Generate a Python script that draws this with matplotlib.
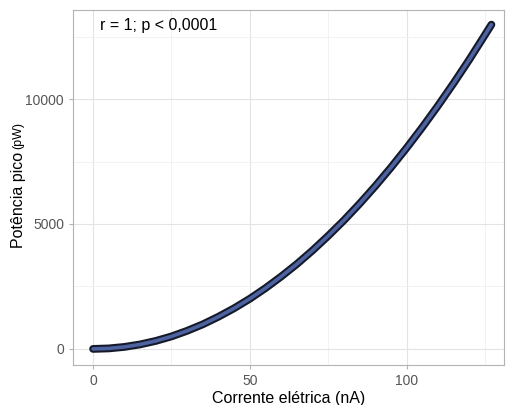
import matplotlib
matplotlib.use('Agg')
import matplotlib.pyplot as plt
from matplotlib.ticker import MultipleLocator

plt.rcParams['font.family'] = ['Liberation Sans', 'DejaVu Sans']

# corrente (nA) e potencia pico (pW)
corrente = [0, 5, 10, 15, 20, 25, 30, 35, 40, 45, 50, 55, 60, 65,
            70, 75, 80, 85, 90, 95, 100, 105, 110, 115, 120, 125, 127]
potencia = [0, 20, 80, 180, 320, 500, 725, 985, 1290, 1630, 2010, 2435,
            2900, 3400, 3945, 4530, 5150, 5815, 6520, 7265, 8050, 8875,
            9740, 10645, 11590, 12580, 12980]
anotacao = 'r = 1; p < 0,0001'

fig = plt.figure(figsize=(5.07, 4.05), dpi=100)
ax = fig.add_axes([0.144, 0.099, 0.85, 0.876])

ax.plot(corrente, potencia, color='#151a2a', lw=5.6, solid_capstyle='round', zorder=3)
ax.plot(corrente, potencia, color='#4d62a0', lw=2.6, solid_capstyle='round', zorder=4)

ax.set_xlim(-6.4, 131)
ax.set_ylim(-640, 13560)
ax.xaxis.set_major_locator(MultipleLocator(50))
ax.xaxis.set_minor_locator(MultipleLocator(25))
ax.yaxis.set_major_locator(MultipleLocator(5000))
ax.yaxis.set_minor_locator(MultipleLocator(2500))
ax.grid(which='major', color='#e3e3e3', lw=0.8)
ax.grid(which='minor', color='#f0f0f0', lw=0.6)
ax.set_axisbelow(True)
for s in ax.spines.values():
    s.set_color('#b3b3b3')
    s.set_linewidth(0.8)
ax.tick_params(which='major', length=3, color='#b3b3b3', labelcolor='#555555', labelsize=10)
ax.tick_params(which='minor', length=0)

ax.set_xlabel('Corrente elétrica (nA)', fontsize=11.5, labelpad=2)
ax.text(2.2, 12950, anotacao, fontsize=11.5, va='center', ha='left')

fig.text(0.036, 0.388, 'Potência pico', rotation=90, fontsize=11.5, ha='center', va='bottom')
fig.text(0.036, 0.633, '(pW)', rotation=90, fontsize=9, ha='center', va='bottom')

fig.savefig('out.png', dpi=100)
